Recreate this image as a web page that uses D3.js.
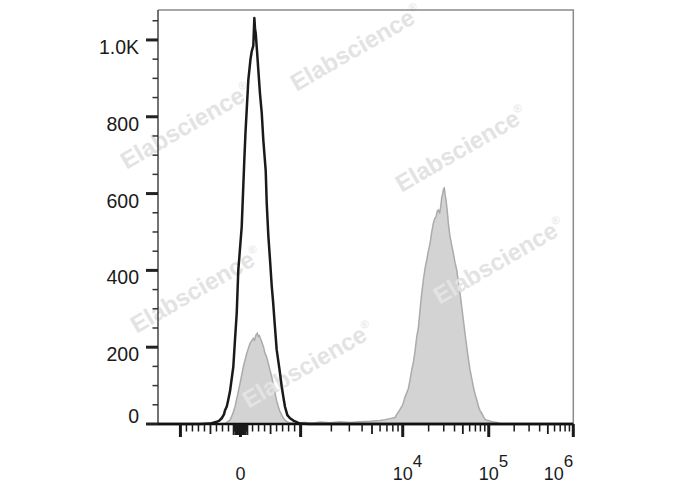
<!DOCTYPE html>
<html><head><meta charset="utf-8">
<script src="https://cdn.jsdelivr.net/npm/d3@7"></script>
<style>html,body{margin:0;padding:0;background:#fff;}svg{display:block;}</style>
</head><body>
<script>
// ---------- data ----------
// control (unstained, black outline): fluorescence value vs count
const ctrlX = [-1658,-674,-508,-396,-358,-313,-275,-258,-230,-208,-175,-120,-92,-63,-37,-17,20,63,83,130,166,186,213,230,241,253,275,296,324,353,379,419,436,463,491,519,541,574,602,646,686,712,740,779,824,879,935,990,1200,1000000];
const ctrlY = [0,0,1,6,8,15,25,36,45,60,85,149,219,289,401,440,514,687,760,896,950,970,985,1057,1030,1017,970,922,860,810,740,660,575,490,427,360,320,250,193,145,97,71,45,23,15,9,5,1,0,0];
// stained sample (grey filled)
const sampX = [-1658,-424,-286,-241,-175,-133,-92,-50,-8,47,103,158,213,233,258,280,296,313,353,383,408,433,463,491,519,549,574,602,629,657,686,716,740,782,824,907,990,1104,1293,1549,1941,2432,3047,3817,4782,5992,6708,7508,8404,8993,9408,10000,10631,11614,12156,12725,13283,13900,14545,15183,15891,16632,17361,18170,19011,19849,20773,21740,22691,23558,24393,25251,25942,26785,27660,28410,29183,29814,30459,31204,31880,32924,33909,35481,37141,38774,40576,42465,44332,46384,48547,50674,53037,55510,57940,60625,63448,66227,69307,72530,75710,79232,82918,86555,90580,95564,103560,112370,124300,135990,155850,1000000];
const sampY = [0,0,1,3,10,25,45,75,106,149,184,210,223,218,232,236,228,230,214,200,184,175,158,140,123,100,80,60,45,32,23,15,10,5,3,2,3,4,2,5,3,6,4,6,7,9,11,14,17,30,38,50,70,92,115,141,160,190,227,250,297,340,375,405,427,450,470,500,523,535,540,555,557,548,566,590,600,612,614,595,583,555,523,488,465,444,420,401,370,340,305,271,235,201,170,141,118,97,78,63,47,35,28,20,12,10,8,5,4,1,0,0];

const yTickValues = [0,200,400,600,800,1000];
const yTickLabels = ["0","200","400","600","800","1.0K"];
const xMajorTicks = [-1000,0,1000,10000,100000,1000000];
const xLabelValues = [0,10000,100000,1000000];
const xLabelBase = ["0","10","10","10"];
const xLabelExp = ["","4","5","6"];
const watermarks = [[360,55],[465,156],[503,268],[200,297],[312,372],[190,133]];

// ---------- scales ----------
const W = 688, H = 490;
const L = 158, R = 573.3, T0 = 10, B = 424;
const logPart = d3.scaleLinear().domain([3,4,5,6]).range([1,2.699,4.130,5.537]);
function tr(v){ const a = Math.abs(v); const u = a <= 1000 ? a/1000 : logPart(Math.log10(a)); return v < 0 ? -u : u; }
const xLin = d3.scaleLinear().domain([tr(-1658), tr(1e6)]).range([L, R]);
const x = v => xLin(tr(v));
const y = d3.scaleLinear().domain([0, 1078]).range([B, T0]);

const svg = d3.select("body").append("svg").attr("width", W).attr("height", H);

const sample = sampX.map((v,i)=>[v, sampY[i]]);
const ctrl = ctrlX.map((v,i)=>[v, ctrlY[i]]);
svg.append("path").datum(sample)
  .attr("d", d3.area().x(d=>x(d[0])).y0(y(0)).y1(d=>y(d[1])))
  .attr("fill", "#d3d3d3").attr("stroke", "#ababab").attr("stroke-width", 1.5);

// watermarks
const wm = svg.append("g");
watermarks.forEach(([cx,cy])=>{
  const t = wm.append("text").attr("transform", `translate(${cx},${cy}) rotate(-30)`)
    .attr("text-anchor","middle").attr("font-family","Liberation Sans, Arial, sans-serif")
    .attr("font-weight","bold").attr("font-size", 24).attr("fill","#e3e3e3");
  t.append("tspan").text("Elabscience");
  t.append("tspan").attr("font-size", 11).attr("dy", -11).attr("font-weight","normal").text("®");
});

// control outline
svg.append("path").datum(ctrl)
  .attr("d", d3.line().x(d=>x(d[0])).y(d=>y(d[1])))
  .attr("fill", "none").attr("stroke", "#1a1a1a").attr("stroke-width", 2.5).attr("stroke-linejoin","round");

// frame
svg.append("path").attr("d", `M${L},${T0}H${R}V${B}`).attr("fill","none").attr("stroke","#8a8a8a").attr("stroke-width",1.5);
svg.append("line").attr("x1",L).attr("x2",L).attr("y1",T0).attr("y2",B).attr("stroke","#444").attr("stroke-width",1.5);

// y ticks
const gy = svg.append("g");
d3.range(50, 1078, 50).filter(v=>v%200!==0).forEach(v=>{
  gy.append("line").attr("x1",L-5.5).attr("x2",L).attr("y1",y(v)).attr("y2",y(v)).attr("stroke","#333").attr("stroke-width",1.5);
});
yTickValues.forEach((v,i)=>{
  gy.append("line").attr("x1",L-12).attr("x2",L).attr("y1",y(v)).attr("y2",y(v)).attr("stroke","#222").attr("stroke-width",3);
  gy.append("text").attr("x",139).attr("y",Math.min(y(v)+14, 423)).attr("text-anchor","end")
    .attr("font-family","Liberation Sans, Arial, sans-serif").attr("font-size",19.5).attr("fill","#1a1a1a").text(yTickLabels[i]);
});

// x axis
const gx = svg.append("g");
gx.append("line").attr("x1",L).attr("x2",R).attr("y1",B).attr("y2",B).attr("stroke","#111").attr("stroke-width",2.6);
function xt(v, len, w){ gx.append("line").attr("x1",x(v)).attr("x2",x(v)).attr("y1",B).attr("y2",B+len).attr("stroke","#1a1a1a").attr("stroke-width",w); }
const minorX = [];
[100,200,300,400,600,700,800,900].forEach(m=>{minorX.push(m,-m);});
[2,3,4,6,7,8,9].forEach(m=>{minorX.push(m*1e3,m*1e4,m*1e5);});
minorX.forEach(v=>xt(v,7.5,1.5));
[500,-500,5000,50000,500000].forEach(v=>xt(v,10,1.8));
d3.range(-120,130,10).filter(v=>v!==0 && v!==100 && v!==-100).forEach(v=>xt(v,11,1.2));
xMajorTicks.forEach(v=>xt(v,13,3));

// x labels
xLabelValues.forEach((v,i)=>{
  const t = gx.append("text").attr("y",480).attr("font-family","Liberation Sans, Arial, sans-serif")
    .attr("font-size",18).attr("fill","#1a1a1a");
  const b = t.append("tspan").text(xLabelBase[i]);
  if (xLabelExp[i]) t.append("tspan").attr("dy",-13).attr("font-size",17).text(xLabelExp[i]);
  const bw = b.node().getComputedTextLength();
  let sx = x(v) - bw/2;
  const tw = t.node().getComputedTextLength();
  if (sx + tw > R) sx = R - tw;
  t.attr("x", sx);
});
</script>
</body></html>
